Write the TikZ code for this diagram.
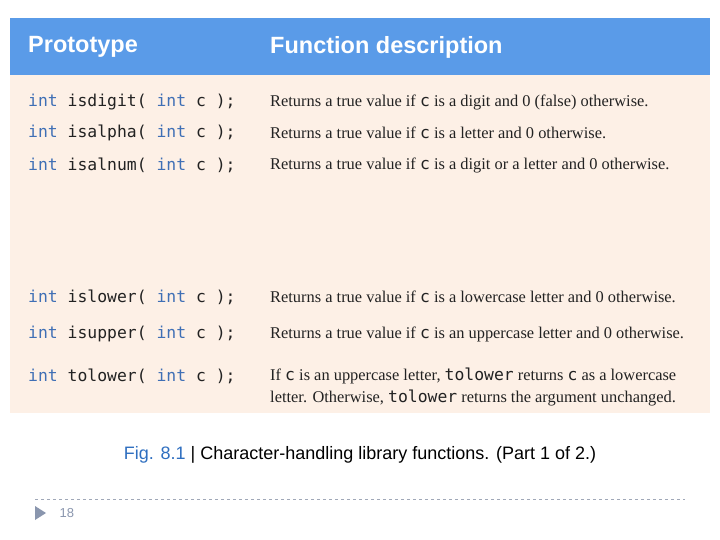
\documentclass[tikz,border=0pt]{standalone}
\usepackage{fontspec}
\setmainfont{Liberation Serif}
\setsansfont{Liberation Sans}
\setmonofont{DejaVu Sans Mono}
\usetikzlibrary{positioning}
\definecolor{headblue}{HTML}{5A9BE8}
\definecolor{bodybeige}{HTML}{FDF0E6}
\definecolor{keyblue}{HTML}{3F6FB5}
\definecolor{codegray}{HTML}{222222}
\definecolor{figblue}{HTML}{2F6FC0}
\definecolor{rulegray}{HTML}{A0A8B8}
\definecolor{markgray}{HTML}{8A96AE}
\newcommand{\kw}[1]{\textcolor{keyblue}{#1}}
\newcommand{\cc}[1]{{\ttfamily #1}}
\tikzset{
  header/.style={
    anchor=west,
    white,
    node font=\sffamily\bfseries\fontsize{23.5}{27}\selectfont,
    inner sep=0,
  },
  proto/.style={
    anchor=west,
    codegray,
    node font=\ttfamily\fontsize{16.4}{19}\selectfont,
    inner sep=0,
  },
  desc/.style={
    anchor=west,
    codegray,
    node font=\fontsize{16.4}{22}\selectfont,
    align=left,
    inner sep=0,
  },
}
\begin{document}
\begin{tikzpicture}[x=1pt,y=-1pt]
  \useasboundingbox (0,0) rectangle (720,540);
  \fill[white] (0,0) rectangle (720,540);
  \fill[headblue] (10,18) rectangle (710,75);
  \fill[bodybeige] (10,75) rectangle (710,413);

  \node (proto head) [header] at (28,47) {Prototype};
  \node (desc head)  [header] at (270,47) {Function description};

  \node (isdigit) [proto] at (28,102) {\kw{int} isdigit( \kw{int} c );};
  \node (isalpha) [proto] at (28,133) {\kw{int} isalpha( \kw{int} c );};
  \node (isalnum) [proto] at (28,165) {\kw{int} isalnum( \kw{int} c );};
  \node (islower) [proto] at (28,297) {\kw{int} islower( \kw{int} c );};
  \node (isupper) [proto] at (28,334) {\kw{int} isupper( \kw{int} c );};
  \node (tolower) [proto] at (28,376) {\kw{int} tolower( \kw{int} c );};

  \node (isdigit desc) [desc] at (270,102) {Returns a true value if \cc{c} is a digit and 0 (false) otherwise.};
  \node (isalpha desc) [desc] at (270,133) {Returns a true value if \cc{c} is a letter and 0 otherwise.};
  \node (isalnum desc) [desc] at (270,165) {Returns a true value if \cc{c} is a digit or a letter and 0 otherwise.};
  \node (islower desc) [desc] at (270,297) {Returns a true value if \cc{c} is a lowercase letter and 0 otherwise.};
  \node (isupper desc) [desc] at (270,334) {Returns a true value if \cc{c} is an uppercase letter and 0 otherwise.};
  \node (tolower desc) [desc] at (270,387) {If \cc{c} is an uppercase letter, \cc{tolower} returns \cc{c} as a lowercase\\
    letter. Otherwise, \cc{tolower} returns the argument unchanged.};

  \node (caption) [node font=\sffamily\fontsize{18}{21}\selectfont] at (360,455)
    {\textcolor{figblue}{Fig. 8.1} | Character-handling library functions. (Part 1 of 2.)};

  \draw[rulegray,dashed] (35,499) -- (685,499);
  \fill[markgray] (35,506) -- (46,513) -- (35,520) -- cycle;
  \node (page) [anchor=west,markgray,node font=\sffamily\fontsize{13}{15}\selectfont] at (55,513) {18};
\end{tikzpicture}
\end{document}
